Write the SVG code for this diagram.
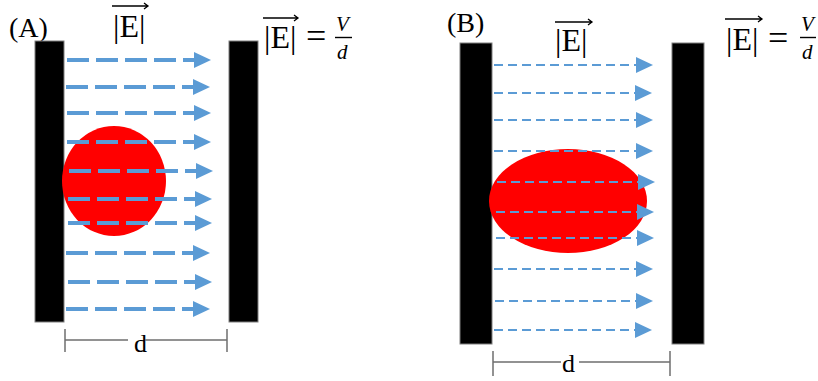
<svg xmlns="http://www.w3.org/2000/svg" width="818" height="381" viewBox="0 0 818 381">
<style>
.plate{fill:#000;stroke:#7f7f7f;stroke-width:1}
.blob{fill:#ff0000}
.lbl{font-family:"Liberation Serif","Times New Roman",serif;fill:#000}
.mi{font-family:"Liberation Serif","Times New Roman",serif;font-style:italic;fill:#000}
.fa{stroke:#5b9bd5;stroke-width:4;stroke-dasharray:22 7;fill:none}
.fb{stroke:#5b9bd5;stroke-width:1.8;stroke-dasharray:9 5;fill:none}
.dim{stroke:#6f6f6f;stroke-width:1.5;fill:none}
.ov{stroke:#000;stroke-width:1.3;fill:none}
</style>
<defs>
<marker id="ah" markerUnits="userSpaceOnUse" markerWidth="17" markerHeight="17" refX="0" refY="8" orient="auto" viewBox="0 0 17 16">
<path d="M0,0 L17,8 L0,16 z" fill="#5b9bd5"/>
</marker>
</defs>

<g id="panelA-label"><text class="lbl" x="9" y="37" font-size="28">(A)</text></g>
<g id="plateA-left"><rect class="plate" x="35" y="41" width="29" height="281"/></g>
<g id="plateA-right"><rect class="plate" x="229" y="41" width="29" height="281"/></g>
<g id="dropA"><ellipse class="blob" cx="114" cy="181" rx="52" ry="55"/></g>
<g id="fieldA-label">
<text class="lbl" x="113" y="37" font-size="32">|E|</text>
<path class="ov" d="M112,6 H148 M144,3 L148,6 L144,9"/>
</g>
<g id="formulaA">
<text class="lbl" x="264" y="48" font-size="32">|E|</text>
<path class="ov" d="M263,18 H298 M294,15 L298,18 L294,21"/>
<text class="lbl" x="306" y="48" font-size="36">=</text>
<text class="mi" x="336" y="31" font-size="21">V</text>
<path d="M335,37.5 H352" stroke="#000" stroke-width="1.4"/>
<text class="mi" x="337" y="59" font-size="21">d</text>
</g>
<g id="dA"><text class="lbl" x="134" y="352" font-size="26">d</text></g>

<g id="panelB-label"><text class="lbl" x="447" y="32" font-size="28">(B)</text></g>
<g id="plateB-left"><rect class="plate" x="460" y="43" width="32" height="301"/></g>
<g id="plateB-right"><rect class="plate" x="672" y="43" width="32" height="301"/></g>
<g id="dropB"><ellipse class="blob" cx="568" cy="201" rx="79" ry="52"/></g>
<g id="fieldB-label">
<text class="lbl" x="555" y="51" font-size="32">|E|</text>
<path class="ov" d="M555,22 H592 M588,19 L592,22 L588,25"/>
</g>
<g id="formulaB">
<text class="lbl" x="726" y="50" font-size="32">|E|</text>
<path class="ov" d="M725,19 H762 M758,16 L762,19 L758,22"/>
<text class="lbl" x="768" y="50" font-size="36">=</text>
<text class="mi" x="801" y="31" font-size="21">V</text>
<path d="M800,37.5 H816" stroke="#000" stroke-width="1.4"/>
<text class="mi" x="802" y="59" font-size="21">d</text>
</g>
<g id="dB"><text class="lbl" x="562" y="372" font-size="26">d</text></g>

<g id="connectors">
<g id="fieldA">
<line class="fa" x1="67" y1="60" x2="194" y2="60" marker-end="url(#ah)"/>
<line class="fa" x1="66" y1="87" x2="193" y2="87" marker-end="url(#ah)"/>
<line class="fa" x1="67" y1="113" x2="194" y2="113" marker-end="url(#ah)"/>
<line class="fa" x1="67" y1="142" x2="194" y2="142" marker-end="url(#ah)"/>
<line class="fa" x1="69" y1="171" x2="196" y2="171" marker-end="url(#ah)"/>
<line class="fa" x1="68" y1="199" x2="195" y2="199" marker-end="url(#ah)"/>
<line class="fa" x1="68" y1="223" x2="195" y2="223" marker-end="url(#ah)"/>
<line class="fa" x1="66" y1="253" x2="193" y2="253" marker-end="url(#ah)"/>
<line class="fa" x1="68" y1="282" x2="195" y2="282" marker-end="url(#ah)"/>
<line class="fa" x1="66" y1="309" x2="193" y2="309" marker-end="url(#ah)"/>
</g>
<g id="fieldB">
<line class="fb" x1="494" y1="65" x2="636" y2="65" marker-end="url(#ah)"/>
<line class="fb" x1="494" y1="93" x2="635" y2="93" marker-end="url(#ah)"/>
<line class="fb" x1="494" y1="120" x2="636" y2="120" marker-end="url(#ah)"/>
<line class="fb" x1="494" y1="151" x2="636" y2="151" marker-end="url(#ah)"/>
<line class="fb" x1="497" y1="182" x2="638" y2="182" marker-end="url(#ah)"/>
<line class="fb" x1="496" y1="212" x2="637" y2="212" marker-end="url(#ah)"/>
<line class="fb" x1="496" y1="238" x2="637" y2="238" marker-end="url(#ah)"/>
<line class="fb" x1="494" y1="269" x2="636" y2="269" marker-end="url(#ah)"/>
<line class="fb" x1="495" y1="301" x2="636" y2="301" marker-end="url(#ah)"/>
<line class="fb" x1="494" y1="330" x2="635" y2="330" marker-end="url(#ah)"/>
</g>
<g id="dimA">
<path class="dim" d="M65,329 V352 M227,329 V352 M65,340 H128 M145,340 H227"/>
</g>
<g id="dimB">
<path class="dim" d="M493,351 V376 M670,351 V376 M493,362 H561 M579,362 H670"/>
</g>
</g>
</svg>
